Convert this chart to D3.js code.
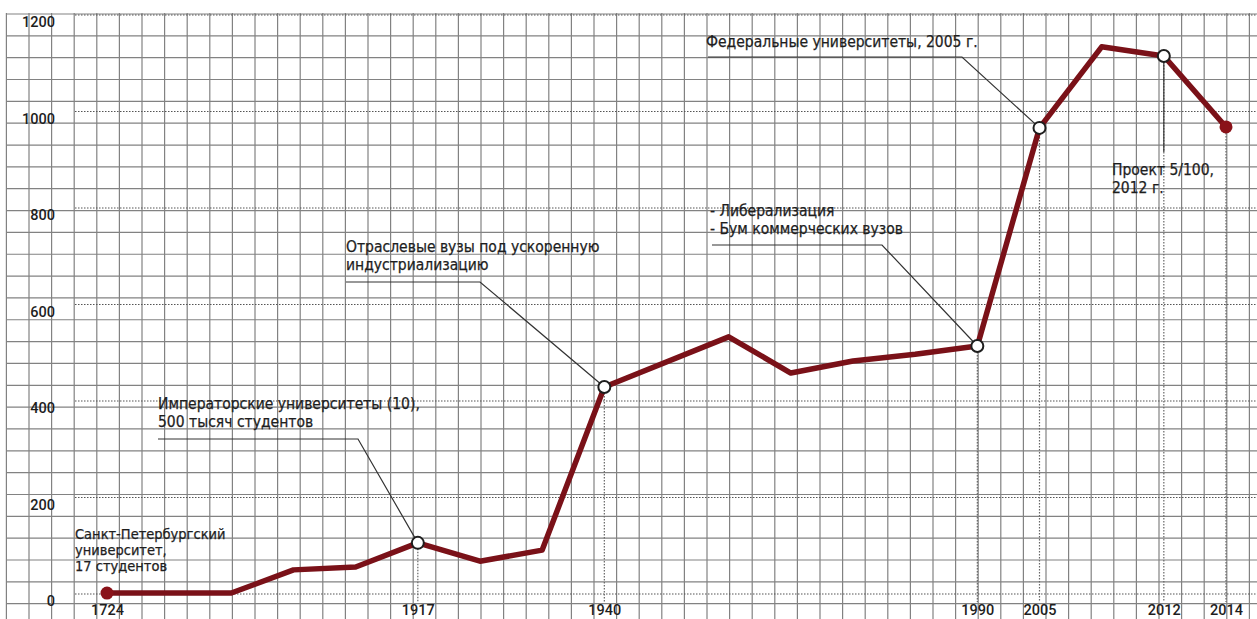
<!DOCTYPE html>
<html>
<head>
<meta charset="utf-8">
<script src="https://cdn.jsdelivr.net/npm/d3@7"></script>
<style>
body { margin: 0; background: #fff; }
svg text { font-family: "Liberation Sans Narrow", "DejaVu Sans Condensed", sans-serif; fill: #1e1e1e; stroke: #1e1e1e; stroke-width: 0.25; }
.tick text { font-family: Roboto, "Liberation Sans", sans-serif; font-size: 14.5px; font-weight: 500; stroke: none; }
</style>
</head>
<body>
<div id="vis"></div>
<script>
const FRAME_WIDTH = 1257;
const FRAME_HEIGHT = 619;

// slot = position along the axis (points are evenly spaced, not by year)
const slots = [0, 2, 3, 4, 5, 6, 7, 8, 10, 11, 12, 13, 14, 15, 16, 17, 18];
const values = [2, 2, 50, 56, 106, 68, 91, 429, 533, 458, 483, 497, 514, 966, 1134, 1115, 968];

const yearSlots = [0, 5, 8, 14, 15, 17, 18];
const yearLabels = ["1724", "1917", "1940", "1990", "2005", "2012", "2014"];
const openSlots = [5, 8, 14, 15, 17];
const filledSlots = [0, 18];
const yTicks = [0, 200, 400, 600, 800, 1000, 1200];

const X_SCALE = d3.scaleLinear().domain([0, 18]).range([107, 1226]);
const Y_SCALE = d3.scaleLinear().domain([0, 1200]).range([594, 15]);

const FRAME = d3.select("#vis")
	.append("svg")
		.attr("width", FRAME_WIDTH)
		.attr("height", FRAME_HEIGHT);

//graph paper
FRAME.append("g").selectAll("line")
	.data(d3.range(6.4, FRAME_WIDTH, 22.6))
	.enter()
	.append("line")
		.attr("x1", d => d).attr("x2", d => d)
		.attr("y1", 13).attr("y2", FRAME_HEIGHT)
		.attr("stroke", "#828282")
		.attr("stroke-width", 1.2);

FRAME.append("g").selectAll("line")
	.data(d3.range(14, FRAME_HEIGHT, 21.84))
	.enter()
	.append("line")
		.attr("x1", 7).attr("x2", FRAME_WIDTH)
		.attr("y1", d => d).attr("y2", d => d)
		.attr("stroke", "#828282")
		.attr("stroke-width", 1.2);

//dotted value lines
FRAME.append("g").selectAll("line")
	.data(yTicks)
	.enter()
	.append("line")
		.attr("x1", 75).attr("x2", FRAME_WIDTH)
		.attr("y1", d => Y_SCALE(d)).attr("y2", d => Y_SCALE(d))
		.attr("stroke", "#555")
		.attr("stroke-width", 1.2)
		.attr("stroke-dasharray", "1.5,1.5");

//dotted year drops
FRAME.append("g").selectAll("line")
	.data(yearSlots.slice(1))
	.enter()
	.append("line")
		.attr("x1", d => X_SCALE(d)).attr("x2", d => X_SCALE(d))
		.attr("y1", d => Y_SCALE(values[slots.indexOf(d)]))
		.attr("y2", 602)
		.attr("stroke", "#666")
		.attr("stroke-width", 1.2)
		.attr("stroke-dasharray", "1.5,1.5");

//axes
const yAxis = FRAME.append("g")
	.attr("transform", "translate(55,7)")
	.call(d3.axisLeft(Y_SCALE).tickValues(yTicks).tickFormat(d3.format("d")).tickSize(0).tickPadding(0));
yAxis.select(".domain").remove();

const xAxis = FRAME.append("g")
	.attr("transform", "translate(0,604)")
	.call(d3.axisBottom(X_SCALE).tickValues(yearSlots)
		.tickFormat((d, i) => yearLabels[i]).tickSize(0).tickPadding(1));
xAxis.select(".domain").remove();

//leaders and notes
const notes = [
	{slot: 5, lines: ["Императорские университеты (10),", "500 тысяч студентов"], tx: 158, ty: 409, hx1: 158, hx2: 358, hy: 439},
	{slot: 8, lines: ["Отраслевые вузы под ускоренную", "индустриализацию"], tx: 346, ty: 252, hx1: 346, hx2: 480, hy: 282},
	{slot: 14, lines: ["- Либерализация", "- Бум коммерческих вузов"], tx: 710, ty: 216, hx1: 712, hx2: 882, hy: 245},
	{slot: 15, lines: ["Федеральные университеты, 2005 г."], tx: 706, ty: 47, hx1: 708, hx2: 962, hy: 57}
];

notes.forEach(n => {
	const v = values[slots.indexOf(n.slot)];
	FRAME.append("polyline")
		.attr("points", [[n.hx1, n.hy], [n.hx2, n.hy], [X_SCALE(n.slot), Y_SCALE(v)]].join(" "))
		.attr("fill", "none")
		.attr("stroke", "#333")
		.attr("stroke-width", 1.2);
	FRAME.append("text")
		.attr("x", n.tx).attr("y", n.ty)
		.attr("font-size", 15.5)
		.selectAll("tspan")
		.data(n.lines)
		.enter()
		.append("tspan")
			.attr("x", n.tx)
			.attr("dy", (d, i) => i === 0 ? 0 : 18)
			.text(d => d);
});

//2012 leader goes straight down
FRAME.append("line")
	.attr("x1", X_SCALE(17)).attr("x2", X_SCALE(17))
	.attr("y1", Y_SCALE(values[slots.indexOf(17)])).attr("y2", 152)
	.attr("stroke", "#333")
	.attr("stroke-width", 1.2);

FRAME.append("text")
	.attr("x", 1112).attr("y", 175)
	.attr("font-size", 15.5)
	.selectAll("tspan")
	.data(["Проект 5/100,", "2012 г."])
	.enter()
	.append("tspan")
		.attr("x", 1112)
		.attr("dy", (d, i) => i === 0 ? 0 : 18)
		.text(d => d);

FRAME.append("text")
	.attr("x", 75).attr("y", 539)
	.attr("font-size", 14.5)
	.selectAll("tspan")
	.data(["Санкт-Петербургский", "университет,", "17 студентов"])
	.enter()
	.append("tspan")
		.attr("x", 75)
		.attr("dy", (d, i) => i === 0 ? 0 : 16)
		.text(d => d);

//the line
const line = d3.line()
	.x((d, i) => X_SCALE(slots[i]))
	.y(d => Y_SCALE(d));

FRAME.append("path")
	.datum(values)
	.attr("d", line)
	.attr("fill", "none")
	.attr("stroke", "#7a1118")
	.attr("stroke-width", 5.5)
	.attr("stroke-linejoin", "round");

FRAME.selectAll(".open")
	.data(openSlots)
	.enter()
	.append("circle")
		.attr("cx", d => X_SCALE(d))
		.attr("cy", d => Y_SCALE(values[slots.indexOf(d)]))
		.attr("r", 6)
		.attr("fill", "#fff")
		.attr("stroke", "#1e1e1e")
		.attr("stroke-width", 2);

FRAME.selectAll(".filled")
	.data(filledSlots)
	.enter()
	.append("circle")
		.attr("cx", d => X_SCALE(d))
		.attr("cy", d => Y_SCALE(values[slots.indexOf(d)]))
		.attr("r", 6.5)
		.attr("fill", "#8a1219");
</script>
</body>
</html>
